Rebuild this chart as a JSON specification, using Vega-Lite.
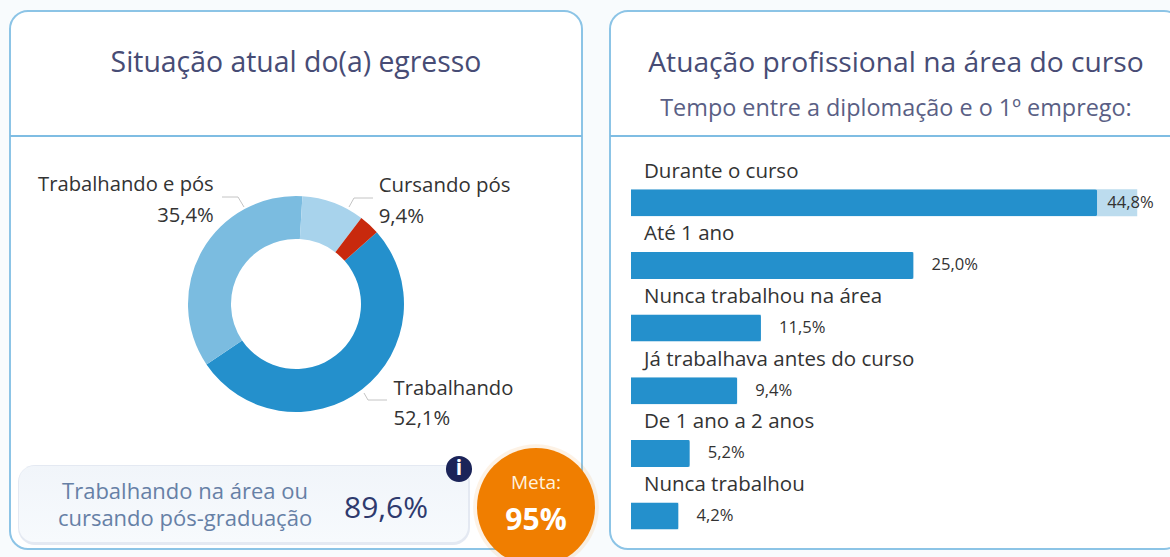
{
"$schema":"https://vega.github.io/schema/vega-lite/v6.json",
"background":"#f8fbfd",
"padding":{"left":8,"top":10,"right":0,"bottom":0},
"bounds":"flush",
"spacing":28,
"config":{"font":"Open Sans","text":{"font":"Open Sans"},"title":{"font":"Open Sans"}},
"hconcat":[
{"width":572,"height":538,
 "view":{"fill":"white","stroke":"#8cc4e6","strokeWidth":2,"cornerRadius":18},
 "title":{"text":"Situação atual do(a) egresso","fontSize":28.4,"fontWeight":"normal","color":"#474c75","offset":-67,"anchor":"middle"},
 "data":{"values":[
  {"nome":"Trabalhando","valor":52.1,"rotulo":"Trabalhando\n52,1%","ordem":1},
  {"nome":"Trabalhando e pós","valor":35.4,"rotulo":"Trabalhando e pós\n35,4%","ordem":2},
  {"nome":"Cursando pós","valor":9.4,"rotulo":"Cursando pós\n9,4%","ordem":3},
  {"nome":"Outros","valor":3.1,"rotulo":"","ordem":4}
 ]},
 "layer":[
  {"mark":{"type":"rule","stroke":"#7fbde3","strokeWidth":2},"data":{"values":[{"g":"divisor"}]},"encoding":{"x":{"value":0},"x2":{"value":572},"y":{"value":125}}},
  {"mark":{"type":"arc","radius":108,"radius2":65},
   "encoding":{"x":{"value":286},"y":{"value":293},
    "theta":{"field":"valor","type":"quantitative","stack":true,"scale":{"range":[0.845,7.128]}},
    "order":{"field":"ordem","type":"ordinal"},
    "color":{"field":"nome","type":"nominal","legend":null,"scale":{"domain":["Trabalhando","Trabalhando e pós","Cursando pós","Outros"],"range":["#2490cc","#7bbce0","#a8d3ec","#c8290d"]}}}},
  {"mark":{"type":"text","radius":120,"align":"left","baseline":"alphabetic","dx":24,"dy":-4,"fontSize":20.2,"lineHeight":30,"lineBreak":"\n","color":"#333"},
   "encoding":{"x":{"value":286},"y":{"value":293},
    "theta":{"field":"valor","type":"quantitative","stack":true,"scale":{"range":[0.845,7.128]}},
    "order":{"field":"ordem","type":"ordinal"},
    "text":{"condition":{"test":"datum.nome==='Trabalhando'","field":"rotulo"},"value":""}}},
  {"mark":{"type":"text","radius":120,"align":"right","baseline":"alphabetic","dx":22,"dy":-54,"fontSize":20.2,"lineHeight":31,"lineBreak":"\n","color":"#333"},
   "encoding":{"x":{"value":286},"y":{"value":293},
    "theta":{"field":"valor","type":"quantitative","stack":true,"scale":{"range":[0.845,7.128]}},
    "order":{"field":"ordem","type":"ordinal"},
    "text":{"condition":{"test":"datum.nome==='Trabalhando e pós'","field":"rotulo"},"value":""}}},
  {"mark":{"type":"text","radius":120,"align":"left","baseline":"alphabetic","dx":41,"dy":1,"fontSize":20.4,"lineHeight":31,"lineBreak":"\n","color":"#333"},
   "encoding":{"x":{"value":286},"y":{"value":293},
    "theta":{"field":"valor","type":"quantitative","stack":true,"scale":{"range":[0.845,7.128]}},
    "order":{"field":"ordem","type":"ordinal"},
    "text":{"condition":{"test":"datum.nome==='Cursando pós'","field":"rotulo"},"value":""}}},
  {"mark":{"type":"rule","stroke":"#c4c4c4","strokeWidth":1},"data":{"values":[{"g":"guia"}]},"encoding":{"x":{"value":212},"x2":{"value":228},"y":{"value":186},"y2":{"value":186}}},
  {"mark":{"type":"rule","stroke":"#c4c4c4","strokeWidth":1},"data":{"values":[{"g":"guia"}]},"encoding":{"x":{"value":228},"x2":{"value":234},"y":{"value":186},"y2":{"value":196}}},
  {"mark":{"type":"rule","stroke":"#c4c4c4","strokeWidth":1},"data":{"values":[{"g":"guia"}]},"encoding":{"x":{"value":344},"x2":{"value":363},"y":{"value":187},"y2":{"value":187}}},
  {"mark":{"type":"rule","stroke":"#c4c4c4","strokeWidth":1},"data":{"values":[{"g":"guia"}]},"encoding":{"x":{"value":339},"x2":{"value":344},"y":{"value":196},"y2":{"value":187}}},
  {"mark":{"type":"rule","stroke":"#c4c4c4","strokeWidth":1},"data":{"values":[{"g":"guia"}]},"encoding":{"x":{"value":358},"x2":{"value":377},"y":{"value":389},"y2":{"value":389}}},
  {"mark":{"type":"rule","stroke":"#c4c4c4","strokeWidth":1},"data":{"values":[{"g":"guia"}]},"encoding":{"x":{"value":354},"x2":{"value":358},"y":{"value":382},"y2":{"value":389}}},
  {"mark":{"type":"rect","cornerRadius":17,"fill":"#d9e0ec","opacity":0.7},"data":{"values":[{"g":"sombra"}]},"encoding":{"x":{"value":8},"x2":{"value":460},"y":{"value":454},"y2":{"value":534}}},
  {"mark":{"type":"rect","cornerRadius":15,"fill":{"gradient":"linear","x1":0,"y1":0,"x2":0,"y2":1,"stops":[{"offset":0,"color":"#f1f5fa"},{"offset":1,"color":"#f7fafd"}]}},"data":{"values":[{"g":"cartao"}]},"encoding":{"x":{"value":9},"x2":{"value":458},"y":{"value":455},"y2":{"value":531}}},
  {"mark":{"type":"text","align":"center","baseline":"alphabetic","fontSize":22,"color":"#6680a6","lineBreak":"\n","lineHeight":27},"data":{"values":[{"t":"Trabalhando na área ou\ncursando pós-graduação"}]},"encoding":{"x":{"value":175},"y":{"value":488},"text":{"field":"t"}}},
  {"mark":{"type":"text","align":"center","baseline":"alphabetic","fontSize":30,"color":"#2e3a6e"},"data":{"values":[{"t":"89,6%"}]},"encoding":{"x":{"value":376},"y":{"value":507},"text":{"field":"t"}}},
  {"mark":{"type":"point","filled":true,"shape":"circle","color":"#1b2459","opacity":1},"data":{"values":[{"g":"info"}]},"encoding":{"x":{"value":449},"y":{"value":458},"size":{"value":680}}},
  {"mark":{"type":"text","align":"center","baseline":"middle","fontSize":21,"fontWeight":"bold","color":"white"},"data":{"values":[{"t":"i"}]},"encoding":{"x":{"value":449},"y":{"value":458},"text":{"field":"t"}}},
  {"mark":{"type":"point","filled":true,"shape":"circle","color":"#f07e00","opacity":0.1},"data":{"values":[{"g":"brilho"}]},"encoding":{"x":{"value":526},"y":{"value":496},"size":{"value":15800}}},
  {"mark":{"type":"point","filled":true,"shape":"circle","color":"#f07e00","opacity":1},"data":{"values":[{"g":"meta"}]},"encoding":{"x":{"value":526},"y":{"value":496},"size":{"value":13924}}},
  {"mark":{"type":"text","align":"center","baseline":"alphabetic","fontSize":19,"color":"#fff2df"},"data":{"values":[{"t":"Meta:"}]},"encoding":{"x":{"value":526},"y":{"value":478},"text":{"field":"t"}}},
  {"mark":{"type":"text","align":"center","baseline":"alphabetic","fontSize":30,"fontWeight":"bold","color":"white"},"data":{"values":[{"t":"95%"}]},"encoding":{"x":{"value":526},"y":{"value":519},"text":{"field":"t"}}}
 ]},
{"width":572,"height":538,
 "view":{"fill":"white","stroke":"#8cc4e6","strokeWidth":2,"cornerRadius":18},
 "title":{"text":"Atuação profissional na área do curso","subtitle":"Tempo entre a diplomação e o 1º emprego:","fontSize":28.2,"fontWeight":"normal","color":"#474c75","subtitleFont":"Open Sans","subtitleFontSize":23.4,"subtitleColor":"#5a5f85","subtitlePadding":19,"offset":-110,"anchor":"middle"},
 "data":{"values":[
  {"categoria":"Durante o curso","valor":44.8,"solido":41.25,"rotulo":"44,8%"},
  {"categoria":"Até 1 ano","valor":25.0,"solido":25.0,"rotulo":"25,0%"},
  {"categoria":"Nunca trabalhou na área","valor":11.5,"solido":11.5,"rotulo":"11,5%"},
  {"categoria":"Já trabalhava antes do curso","valor":9.4,"solido":9.4,"rotulo":"9,4%"},
  {"categoria":"De 1 ano a 2 anos","valor":5.2,"solido":5.2,"rotulo":"5,2%"},
  {"categoria":"Nunca trabalhou","valor":4.2,"solido":4.2,"rotulo":"4,2%"}
 ]},
 "encoding":{
  "y":{"field":"categoria","type":"nominal","sort":null,"axis":null,"scale":{"range":[160.4,536.4],"padding":0}}
 },
 "layer":[
  {"mark":{"type":"rule","stroke":"#7fbde3","strokeWidth":2},"data":{"values":[{"g":"divisor"}]},"encoding":{"y":{"value":125},"x":{"value":0},"x2":{"value":572}}},
  {"mark":{"type":"bar","size":27,"color":"#bcdcee"},"encoding":{"x":{"field":"valor","type":"quantitative","axis":null,"scale":{"domain":[0,48],"range":[21,563.4]}}}},
  {"mark":{"type":"bar","size":27,"color":"#2490cc","cornerRadiusEnd":2},"encoding":{"x":{"field":"solido","type":"quantitative","axis":null,"scale":{"domain":[0,48],"range":[21,563.4]}}}},
  {"mark":{"type":"text","align":"left","baseline":"middle","dx":13,"dy":-31,"fontSize":20.5,"color":"#333"},"encoding":{"x":{"datum":0,"type":"quantitative","scale":{"domain":[0,48],"range":[21,563.4]}},"text":{"field":"categoria"}}},
  {"transform":[{"filter":"datum.valor<40"}],"mark":{"type":"text","align":"left","baseline":"middle","dx":18,"fontSize":16.6,"color":"#333"},"encoding":{"x":{"field":"valor","type":"quantitative","scale":{"domain":[0,48],"range":[21,563.4]}},"text":{"field":"rotulo"}}},
  {"transform":[{"filter":"datum.valor>=40"}],"mark":{"type":"text","align":"left","baseline":"middle","dx":-30,"fontSize":16.6,"color":"#333"},"encoding":{"x":{"field":"valor","type":"quantitative","scale":{"domain":[0,48],"range":[21,563.4]}},"text":{"field":"rotulo"}}}
 ]}
]}
